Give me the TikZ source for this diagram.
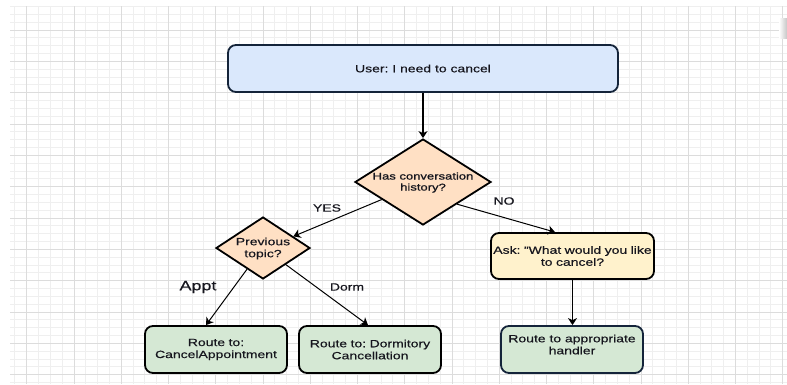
\documentclass[tikz,border=0pt]{standalone}
\usepackage{fontspec}
\setmainfont{Liberation Sans}[FakeStretch=1.33,FakeBold=0.35]
\newfontfamily\diafont{Liberation Sans}[FakeStretch=1.33,FakeBold=0.9]
\frenchspacing
\usetikzlibrary{shapes.geometric,arrows.meta,calc}
\definecolor{bluef}{HTML}{DAE8FC}
\definecolor{peachf}{HTML}{FFE0C4}
\definecolor{yellowf}{HTML}{FFF2CC}
\definecolor{greenf}{HTML}{D5E8D4}
\definecolor{navy}{HTML}{14243A}
\definecolor{textc}{HTML}{16161E}
\definecolor{gmaj}{HTML}{DCDCDC}
\definecolor{gmin}{HTML}{EFEFEF}
\begin{document}
\begin{tikzpicture}[x=1pt,y=-1pt,
  box/.style={rectangle, draw=black, line width=1.8pt, rounded corners=8pt, inner sep=0pt, align=center, text=textc, font=\fontsize{10.5}{12}\selectfont},
  dia/.style={diamond, draw=black, line width=1.8pt, fill=peachf, inner sep=0pt},
  lbl/.style={text=textc, font=\fontsize{10.5}{12}\selectfont, inner sep=0pt, align=center},
  dlbl/.style={text=textc, font=\diafont\fontsize{9.8}{11}\selectfont, inner sep=0pt, align=center},
  arr/.style={-{Stealth[length=7pt,width=9pt,inset=2pt]}, line width=1pt},
  varr/.style={arr, line width=1.3pt}]
\useasboundingbox (0,0) rectangle (787,384);
\fill[white] (0,0) rectangle (787,384);
% grid
\begin{scope}
\clip (10,6.7) rectangle (787,384);
\foreach \i in {-2,...,66} \draw[gmin, line width=0.9pt] ({26.7+\i*11.8125},0) -- ++(0,384);
\foreach \j in {-4,...,48} \draw[gmin, line width=0.9pt] (0,{30+\j*7.833}) -- ++(787,0);
\foreach \i in {0,...,16} \draw[gmaj, line width=0.9pt] ({26.7+\i*47.25},0) -- ++(0,384);
\foreach \j in {0,...,11} \draw[gmaj, line width=0.9pt] (0,{30+\j*31.33}) -- ++(787,0);
\end{scope}
\shade[left color=white, right color=gray!45] (779,18) rectangle (787,38);
% nodes
\node[box, fill=bluef, draw=navy, minimum width=390pt, minimum height=47pt] (user) at (423,68.5) {User: I need to cancel};
\node[dia, minimum width=136pt, minimum height=86pt] (d1) at (423,182) {};
\node[dlbl] (d1t) at (423,182.5) {Has conversation\\history?};
\node[dia, minimum width=94pt, minimum height=62pt] (d2) at (263,248) {};
\node[lbl] (d2t) at (263,248.5) {Previous\\topic?};
\node[box, fill=yellowf, minimum width=163pt, minimum height=46pt, text width=163pt] (ask) at (572.5,256) {Ask: "What would you like\\to cancel?};
\node[box, fill=greenf, draw=navy, minimum width=142pt, minimum height=47pt] (hand) at (572,349.5) {};
\node[lbl] (handt) at (572,344.5) {Route to appropriate\\handler};
\node[box, fill=greenf, minimum width=142pt, minimum height=47pt, text width=142pt] (appt) at (216,349.5) {Route to:\\CancelAppointment};
\node[box, fill=greenf, minimum width=142pt, minimum height=47pt, text width=142pt] (dorm) at (370,349.5) {Route to: Dormitory\\Cancellation};
% connectors
\draw[varr] (user) -- (d1);
\draw[arr] (d1.203.8) -- (d2.21.2);
\draw[arr] (d1.327.8) -- ([xshift=-17.5pt]ask.north);
\draw[varr] (ask.south) -- (ask.south |- hand.north);
\draw[arr] (d2.233.5) -- ([xshift=-10pt]appt.north);
\draw[arr] (d2.324.2) -- ([xshift=-2pt]dorm.north);
% labels
\node[lbl] (yes) at (327,208) {YES};
\node[lbl] (no) at (504,201) {NO};
\node[lbl, font=\fontsize{13.5}{14}\selectfont] (apptl) at (198,287) {Appt};
\node[lbl] (dorml) at (347,287) {Dorm};
\end{tikzpicture}
\end{document}
